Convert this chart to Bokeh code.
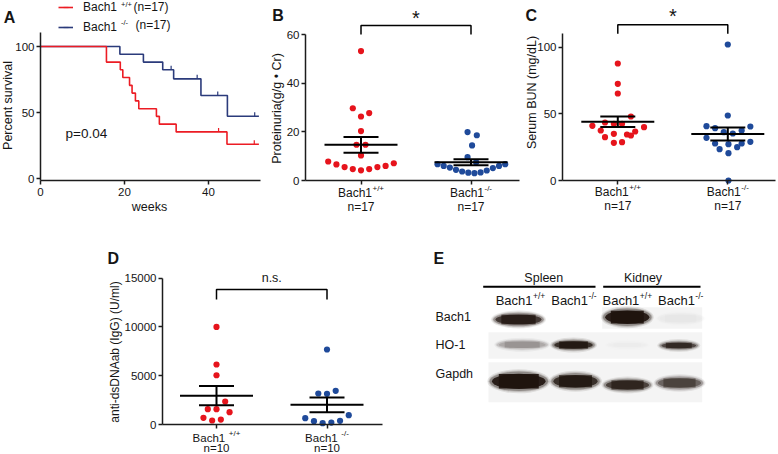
import numpy as np
from bokeh.plotting import figure
from bokeh.models import Range1d, FixedTicker, Label, Legend, LegendItem
from bokeh.layouts import row, column
from bokeh.embed import file_html
from bokeh.resources import INLINE
from bokeh.core.properties import value

# ---------------- data ----------------
GENO = ["+/+", "-/-"]
CATS = [1, 2]

# A: Kaplan-Meier survival
A_WT_WEEKS = [0, 15.7, 19.0, 19.6, 21.2, 21.8, 22.6, 23.4, 27.6, 28.3, 32.3, 44.4, 52.0]
A_WT_SURV = [100, 88.2, 82.4, 76.5, 70.6, 64.7, 58.8, 52.9, 47.1, 41.2, 35.3, 26.0, 26.0]
A_WT_CENS_WEEKS = [42.4, 50.9]
A_WT_CENS_SURV = [35.3, 26.0]
A_KO_WEEKS = [0, 18.9, 24.5, 29.1, 31.7, 38.2, 44.5, 52.0]
A_KO_SURV = [100, 94.1, 88.2, 82.4, 75.5, 62.9, 47.2, 47.2]
A_KO_CENS_WEEKS = [31.1, 37.3, 42.2, 51.0]
A_KO_CENS_SURV = [82.4, 75.5, 62.9, 47.2]
A_X_TICKS = [0, 20, 40]
A_Y_TICKS = [0, 50, 100]

# B: Proteinuria
B_WT = [53.2, 29.7, 27.7, 26.3, 20.3, 14.7, 14.7, 10.3, 7.8, 6.6, 5.5, 4.7, 4.2, 4.7, 5.5, 6.0, 7.1]
B_WT_SLOT = [0, -1, 1, 0, 0, -0.55, 0.55, 0, -4, -3, -2, -1, 0, 1, 2, 3, 4]
B_KO = [19.9, 18.6, 14.4, 9.6, 7.5, 6.7, 6.0, 5.3, 4.4, 3.7, 3.2, 3.0, 3.3, 4.1, 5.1, 6.0, 6.7]
B_KO_SLOT = [-0.42, 0.71, 0.13, -0.42, 0.63, -4.08, -3.33, -2.58, -1.83, -1.08, -0.33, 0.42, 1.17, 1.92, 2.67, 3.42, 4.17]
B_Y_TICKS = [0, 20, 40, 60]
B_BRACKET = [60, 63.7]

# C: Serum BUN
C_WT = [87.75, 72.5, 65.25, 48, 41, 43.5, 42.5, 42.5, 40, 37.5, 36.75, 35, 34.5, 33.75, 32.5, 28.25, 28.75]
C_WT_SLOT = [0, 0, 0, 1.6, -3.1, -1.56, -0.48, 0.52, 3.2, -2.08, 2.12, -0.48, 1.12, 1.6, -1.56, -0.48, 0.52]
C_KO = [102, 48.75, 40.75, 39.25, 40.5, 36.25, 35.25, 37.5, 32, 29, 27.75, 27.25, 27.75, 25, 23.5, 20.5, 0]
C_KO_SLOT = [0, 0, -2.6, -1.55, 2.75, -0.49, 0.61, 1.69, -2.6, 2.75, -1.55, 0.08, 1.69, 1.14, -1.0, 0.08, 0.08]
C_Y_TICKS = [0, 50, 100]
C_BRACKET = [110, 116.8]

# D: anti-dsDNA
D_WT = [10000, 6150, 5050, 2350, 1570, 1570, 1260, 680, 410, 510]
D_WT_SLOT = [0, 0, 0, 1, -1, 0, 1.5, -1.5, -0.5, 0.5]
D_KO = [7690, 3180, 3140, 3450, 960, 650, 340, 140, 200, 380]
D_KO_SLOT = [0, -1, 0, 1, 2.5, -2.5, -1.5, -0.5, 0.5, 1.5]
D_Y_TICKS = [0, 5000, 10000, 15000]
D_BRACKET = [12816, 13841]

# E: western blot (relative band intensities)
E_TISSUES = ["Spleen", "Kidney"]
E_LANE_GENO = ["+/+", "-/-", "+/+", "-/-"]
E_PROTEINS = ["Bach1", "HO-1", "Gapdh"]
E_INTENSITY = [[0.95, 0.0, 1.0, 0.05],
               [0.42, 0.97, 0.03, 0.90],
               [1.0, 0.97, 0.92, 0.78]]

# ---------------- style ----------------
FONT = "Liberation Sans"
TXT = "#151515"
AX = "#1c1c1c"
RED = "#e6141c"
RED_LINE = "#ec1c24"
BLUE = "#1f4a9a"
NAVY = "#2b3b7b"
BAND = "#1e130d"
DOT = 6.2
MEAN_HALF_PX, SEM_HALF_PX = 36.5, 17.5

_W = {'B': 667, 'a': 556, 'c': 500, 'h': 556, '1': 556, '+': 584, '/': 278, '-': 333, ' ': 278}


def text_w(s, size):
    return sum(_W.get(ch, 556) for ch in s) * size / 1000.0


class Panel:
    def __init__(self, ox, oy, w, h):
        self.ox, self.oy, self.w, self.h = ox, oy, w, h

    def sx(self, px):
        return px - self.ox

    def sy(self, py):
        return self.oy + self.h - py


def make_fig(P, xr, yr, **kw):
    p = figure(width=P.w, height=P.h, x_range=xr, y_range=yr, output_backend="svg",
               toolbar_location=None, min_border=0, min_border_left=0, min_border_right=0,
               min_border_top=0, min_border_bottom=0, **kw)
    p.grid.visible = False
    p.outline_line_color = None
    return p


def style_axis(ax, ticks, loc, bounds, hide_labels=False):
    ax.fixed_location = loc
    ax.bounds = bounds
    ax.ticker = FixedTicker(ticks=ticks)
    ax.minor_tick_line_color = None
    ax.major_tick_in = 0
    ax.major_tick_out = 4
    ax.axis_line_width = 1.5
    ax.axis_line_color = AX
    ax.major_tick_line_width = 1.5
    ax.major_tick_line_color = AX
    ax.major_label_text_font = FONT
    ax.major_label_text_font_size = "11.5px"
    ax.major_label_text_color = None if hide_labels else TXT
    ax.major_label_standoff = 2


def lab(p, P, text, px, py, size, align="left", baseline="middle", bold=False, angle=0.0):
    p.add_layout(Label(x=P.sx(px), y=P.sy(py), x_units="screen", y_units="screen", text=text,
                       text_font=FONT, text_font_size=f"{size}px", text_align=align,
                       text_baseline=baseline, text_font_style="bold" if bold else "normal",
                       angle=angle, text_color=TXT))


def dlab(p, P, text, x, py, size, align="center", baseline="middle"):
    p.add_layout(Label(x=x, y=P.sy(py), x_units="data", y_units="screen", text=text,
                       text_font=FONT, text_font_size=f"{size}px", text_align=align,
                       text_baseline=baseline, text_color=TXT))


def cat_lab(p, P, cat_x, base, sup, py, size=12, sup_size=8, space=False):
    b = base + (" " if space else "")
    wb = text_w(b, size)
    ws = text_w(sup, sup_size)
    x0 = -(wb + 0.5 + ws) / 2.0
    p.add_layout(Label(x=cat_x, y=P.sy(py), x_units="data", y_units="screen", x_offset=x0,
                       text=b, text_font=FONT, text_font_size=f"{size}px",
                       text_align="left", text_baseline="middle", text_color=TXT))
    p.add_layout(Label(x=cat_x, y=P.sy(py) + 0.37 * size, x_units="data", y_units="screen",
                       x_offset=x0 + wb + 0.5, text=sup, text_font=FONT,
                       text_font_size=f"{sup_size}px", text_align="left",
                       text_baseline="middle", text_color=TXT))


def dot_groups(p, px_per_cat, slot_px, vals_list, slots_list, colors):
    for c, vals, slots, col in zip(CATS, vals_list, slots_list, colors):
        xs = [c + s * slot_px / px_per_cat for s in slots]
        p.scatter(xs, vals, size=DOT, fill_color=col, line_color=None)
    mh = MEAN_HALF_PX / px_per_cat
    sh = SEM_HALF_PX / px_per_cat
    for c, vals in zip(CATS, vals_list):
        v = np.asarray(vals, dtype=float)
        m = v.mean()
        se = v.std(ddof=1) / np.sqrt(len(v))
        p.segment(x0=[c - mh, c - sh, c - sh, c], y0=[m, m + se, m - se, m - se],
                  x1=[c + mh, c + sh, c + sh, c], y1=[m, m + se, m - se, m + se],
                  line_color="black", line_width=2)


def bracket(p, lo_hi):
    lo, hi = lo_hi
    p.line([CATS[0], CATS[0], CATS[1], CATS[1]], [lo, hi, hi, lo], line_color="black", line_width=1.5)


TOP_H, BOT_H = 222, 232

# ---------------- Panel A ----------------
PA = Panel(0, 0, 262, TOP_H)
A_AX_X, A_AX_Y = 40, 180          # page position of the axes corner
A_PX_WK, A_PX_PCT, A_Y0 = 4.2, 1.32, -1.5
pa = make_fig(PA,
              Range1d(-(A_AX_X - PA.ox) / A_PX_WK, (PA.ox + PA.w - A_AX_X) / A_PX_WK),
              Range1d(A_Y0 - (PA.oy + PA.h - A_AX_Y) / A_PX_PCT, A_Y0 + (A_AX_Y - PA.oy) / A_PX_PCT))
style_axis(pa.xaxis[0], A_X_TICKS, A_Y0, (0, 220 / A_PX_WK))
pa.xaxis[0].major_label_standoff = 3
style_axis(pa.yaxis[0], A_Y_TICKS, 0, (A_Y0, 110.6))
ko_line = pa.step(A_KO_WEEKS, A_KO_SURV, mode="after", line_color=NAVY, line_width=1.6)
wt_line = pa.step(A_WT_WEEKS, A_WT_SURV, mode="after", line_color=RED_LINE, line_width=1.6)
TICK_PX = 4.0
ko_ticks = pa.scatter(A_KO_CENS_WEEKS, [s + TICK_PX / 2 / A_PX_PCT for s in A_KO_CENS_SURV],
                      marker="dash", angle=np.pi / 2, size=TICK_PX, line_color=NAVY, line_width=1.2)
wt_ticks = pa.scatter(A_WT_CENS_WEEKS, [s + TICK_PX / 2 / A_PX_PCT for s in A_WT_CENS_SURV],
                      marker="dash", angle=np.pi / 2, size=TICK_PX, line_color=RED_LINE, line_width=1.2)
leg = Legend(items=[LegendItem(label=value("Bach1"), renderers=[wt_line, wt_ticks]),
                    LegendItem(label=value("Bach1"), renderers=[ko_line, ko_ticks])],
             location=(PA.sx(58), PA.sy(34)), padding=0, margin=0, spacing=6, glyph_width=15,
             glyph_height=12, label_height=12, label_standoff=10, border_line_color=None,
             background_fill_alpha=0, label_text_font=FONT, label_text_font_size="12px",
             label_text_color=TXT)
pa.add_layout(leg)
lab(pa, PA, "+/+", 120.5, 3.5, 7.5)
lab(pa, PA, "(n=17)", 133, 6.5, 12)
lab(pa, PA, "-/-", 120.5, 21.5, 7.5)
lab(pa, PA, "(n=17)", 135, 24.5, 12)
lab(pa, PA, "p=0.04", 65, 132.5, 13.5)
lab(pa, PA, "A", 3.3, 16.5, 16, bold=True)
lab(pa, PA, "Percent survival", 7.5, 105, 12.5, align="center", angle=np.pi / 2)
lab(pa, PA, "weeks", 149, 206, 12.5, align="center")

# ---------------- Panel B ----------------
PB = Panel(262, 0, 260, TOP_H)
B_PX_CAT, B_PX_Y = 110.0, 2.433
B_CAT1_X, B_AX_Y = 360.5, 180
B_X0 = 1 - 55.5 / B_PX_CAT
pb = make_fig(PB,
              Range1d(1 - (B_CAT1_X - PB.ox) / B_PX_CAT, 1 + (PB.ox + PB.w - B_CAT1_X) / B_PX_CAT),
              Range1d(-(PB.oy + PB.h - B_AX_Y) / B_PX_Y, (B_AX_Y - PB.oy) / B_PX_Y))
style_axis(pb.xaxis[0], CATS, 0, (B_X0, B_X0 + 214 / B_PX_CAT), hide_labels=True)
style_axis(pb.yaxis[0], B_Y_TICKS, B_X0, (0, 60))
dot_groups(pb, B_PX_CAT, 8.2, [B_WT, B_KO], [B_WT_SLOT, B_KO_SLOT], [RED, BLUE])
bracket(pb, B_BRACKET)
dlab(pb, PB, "*", 1.5, 17.0, 20)
for c, g in zip(CATS, GENO):
    cat_lab(pb, PB, c, "Bach1", g, 192.7)
    dlab(pb, PB, "n=17", c, 206.5, 12)
lab(pb, PB, "B", 271.7, 15.0, 16, bold=True)
lab(pb, PB, "Proteinuria(g/g \u2022 Cr)", 276.7, 108, 12.5, align="center", angle=np.pi / 2)

# ---------------- Panel C ----------------
PC = Panel(522, 0, 256, TOP_H)
C_PX_CAT, C_PX_Y = 110.0, 1.3333
C_CAT1_X, C_AX_Y = 617.3, 180
C_X0 = 1 - 55.3 / C_PX_CAT
pc = make_fig(PC,
              Range1d(1 - (C_CAT1_X - PC.ox) / C_PX_CAT, 1 + (PC.ox + PC.w - C_CAT1_X) / C_PX_CAT),
              Range1d(-(PC.oy + PC.h - C_AX_Y) / C_PX_Y, (C_AX_Y - PC.oy) / C_PX_Y))
style_axis(pc.xaxis[0], CATS, 0, (C_X0, C_X0 + 213 / C_PX_CAT), hide_labels=True)
style_axis(pc.yaxis[0], C_Y_TICKS, C_X0, (0, 110))
dot_groups(pc, C_PX_CAT, 8.2, [C_WT, C_KO], [C_WT_SLOT, C_KO_SLOT], [RED, BLUE])
bracket(pc, C_BRACKET)
dlab(pc, PC, "*", 1.5, 15.5, 20)
for c, g in zip(CATS, GENO):
    cat_lab(pc, PC, c, "Bach1", g, 191.7)
    dlab(pc, PC, "n=17", c, 205, 12)
lab(pc, PC, "C", 525, 15.0, 16, bold=True)
lab(pc, PC, "Serum BUN (mg/dL)", 531.7, 92, 12.5, align="center", angle=np.pi / 2)

# ---------------- Panel D ----------------
PD = Panel(0, TOP_H, 400, BOT_H)
D_PX_CAT, D_PX_Y = 110.5, (424 - 277.7) / 15000.0
D_CAT1_X, D_AX_Y = 216, 424
D_X0 = 1 - 54.0 / D_PX_CAT
pd_ = make_fig(PD,
               Range1d(1 - (D_CAT1_X - PD.ox) / D_PX_CAT, 1 + (PD.ox + PD.w - D_CAT1_X) / D_PX_CAT),
               Range1d(-(PD.oy + PD.h - D_AX_Y) / D_PX_Y, (D_AX_Y - PD.oy) / D_PX_Y))
style_axis(pd_.xaxis[0], CATS, 0, (D_X0, D_X0 + 220 / D_PX_CAT), hide_labels=True)
style_axis(pd_.yaxis[0], D_Y_TICKS, D_X0, (0, 15000))
dot_groups(pd_, D_PX_CAT, 8.7, [D_WT, D_KO], [D_WT_SLOT, D_KO_SLOT], [RED, BLUE])
bracket(pd_, D_BRACKET)
dlab(pd_, PD, "n.s.", 1.5, 277.2, 12.5)
for c, g in zip(CATS, GENO):
    cat_lab(pd_, PD, c, "Bach1", g, 437, size=11.5, space=True)
    dlab(pd_, PD, "n=10", c, 447.5, 11.5)
lab(pd_, PD, "D", 107, 258, 16, bold=True)
lab(pd_, PD, "anti-dsDNAab (IgG) (U/ml)", 114, 351.5, 12, align="center", angle=np.pi / 2)

# ---------------- Panel E (western blot) ----------------
PE = Panel(400, TOP_H, 378, BOT_H)
LANE_PX = 53.4
LANE0_PX = 520                 # page x of first lane
ROW_Y = [318, 344.5, 381.5]    # page y of band rows
BAND_W = [[49, 45, 47, 45], [50, 41, 40, 37], [57, 47, 46, 46]]
BAND_H = [[12, 10, 16, 10], [8, 9, 6, 7], [18, 15, 11, 11.5]]
BAND_DX = [[-2, 0, 0, 0], [1.7, -0.4, 0, -1.9], [-1.7, 1.6, 0.2, -1.2]]
BAND_DY = [[1, 0, -1.3, 0], [-0.3, 0, 0, 0.5], [-0.7, -0.7, 3, 1]]
HALO = [(6, 0.10), (3.5, 0.16), (1.5, 0.3)]

pe = make_fig(PE, Range1d((PE.ox - LANE0_PX) / LANE_PX, (PE.ox + PE.w - LANE0_PX) / LANE_PX),
              Range1d(PE.oy + PE.h, PE.oy), x_axis_type=None, y_axis_type=None)


def ex(px):
    return (px - LANE0_PX) / LANE_PX


# faint membrane backgrounds
pe.quad(left=[ex(601.7), ex(488), ex(488)], right=[ex(701.7), ex(701.7), ex(701.7)],
        top=[306.7, 331.7, 361.7], bottom=[328.3, 358.3, 401.7],
        fill_color="#f4f4f4", line_color=None)

bx, by, bw, bh, ba = [], [], [], [], []
for r in range(len(E_PROTEINS)):
    for l in range(len(E_LANE_GENO)):
        bx.append(l + BAND_DX[r][l] / LANE_PX)
        by.append(ROW_Y[r] + BAND_DY[r][l])
        bw.append(BAND_W[r][l] / LANE_PX)
        bh.append(BAND_H[r][l])
        ba.append(E_INTENSITY[r][l])
ba = np.array(ba)
# layered shapes whose combined opacity at the band centre equals the intensity
halo_keep = np.ones_like(ba)
for grow, k in HALO:
    pe.ellipse(x=bx, y=by, width=[w + grow / LANE_PX for w in bw], height=[h + grow for h in bh],
               fill_color=BAND, fill_alpha=k * ba, line_color=None)
    halo_keep *= (1 - k * ba)
core = 1 - np.sqrt(np.clip((1 - np.minimum(ba, 0.995)) / halo_keep, 0, 1))
pe.ellipse(x=bx, y=by, width=[w * 0.94 for w in bw], height=[h * 0.85 for h in bh],
           fill_color=BAND, fill_alpha=core, line_color=None)
pe.rect(x=bx, y=by, width=[w * 0.7 for w in bw], height=[h * 0.8 for h in bh],
        fill_color=BAND, fill_alpha=core, line_color=None)

# headers
pe.segment(x0=[ex(482.7), ex(602.7)], y0=[286.3, 286.3], x1=[ex(595), ex(700)], y1=[286.3, 286.3],
           line_color="black", line_width=2)
for t, px in zip(E_TISSUES, [543.3, 642.5]):
    lab(pe, PE, t, px, 277.7, 12.5, align="center")
for l, g in enumerate(E_LANE_GENO):
    cat_lab(pe, PE, l, "Bach1", g, 300, size=13, sup_size=8.5)
for name, py in zip(E_PROTEINS, [316.7, 344.3, 373.3]):
    lab(pe, PE, name, 435, py, 12.5)
lab(pe, PE, "E", 433, 258, 16, bold=True)

top = row(pa, pb, pc, spacing=0)
bottom = row(pd_, pe, spacing=0)
root = column(top, bottom, spacing=0)

open("out.html", "w").write(file_html(root, INLINE))
